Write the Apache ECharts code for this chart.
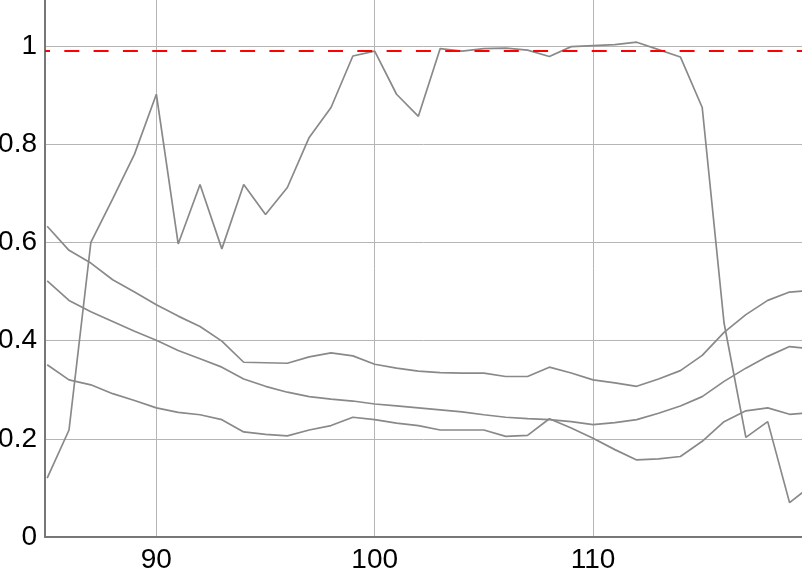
<!DOCTYPE html>
<html>
<head>
<meta charset="utf-8">
<script src="https://cdn.jsdelivr.net/npm/echarts@6/dist/echarts.min.js"></script>
<style>
  html, body { margin: 0; padding: 0; background: #fff; }
  #main { width: 802px; height: 571px; }
</style>
</head>
<body>
<div id="main"></div>
<script>
// x positions 85 .. 120 (the last one falls just past the right edge)
var xs = [85, 86, 87, 88, 89, 90, 91, 92, 93, 94, 95, 96, 97, 98, 99, 100, 101, 102,
  103, 104, 105, 106, 107, 108, 109, 110, 111, 112, 113, 114, 115, 116, 117, 118, 119, 120];

var seriesA = [0.633, 0.584, 0.558, 0.524, 0.499, 0.473, 0.450, 0.429, 0.399, 0.356, 0.355, 0.354,
  0.367, 0.375, 0.369, 0.352, 0.344, 0.338, 0.335, 0.334, 0.334, 0.327, 0.327, 0.346,
  0.334, 0.320, 0.314, 0.307, 0.322, 0.339, 0.370, 0.417, 0.453, 0.482, 0.499, 0.502];
var seriesB = [0.522, 0.482, 0.459, 0.439, 0.419, 0.401, 0.380, 0.363, 0.346, 0.322, 0.307, 0.295,
  0.286, 0.281, 0.277, 0.271, 0.267, 0.263, 0.259, 0.255, 0.249, 0.244, 0.241, 0.239,
  0.235, 0.229, 0.233, 0.239, 0.252, 0.267, 0.286, 0.317, 0.344, 0.368, 0.388, 0.383];
var seriesC = [0.351, 0.320, 0.310, 0.292, 0.278, 0.263, 0.254, 0.249, 0.239, 0.214, 0.209, 0.206,
  0.218, 0.227, 0.244, 0.239, 0.232, 0.227, 0.218, 0.218, 0.218, 0.205, 0.207, 0.241,
  0.222, 0.201, 0.178, 0.157, 0.159, 0.164, 0.195, 0.235, 0.257, 0.263, 0.250, 0.253];
var seriesD = [0.120, 0.218, 0.600, 0.689, 0.780, 0.902, 0.597, 0.718, 0.587, 0.718, 0.657, 0.712,
  0.814, 0.875, 0.980, 0.990, 0.902, 0.857, 0.995, 0.990, 0.995, 0.996, 0.992, 0.979,
  0.999, 1.001, 1.003, 1.008, 0.993, 0.978, 0.875, 0.436, 0.203, 0.235, 0.070, 0.105];

var xTicks = [90, 100, 110];
var yTicks = [0, 0.2, 0.4, 0.6, 0.8, 1];
var refLevel = 0.995;

function pairs(vals) {
  return xs.map(function (x, i) { return [x, vals[i]]; });
}

var chart = echarts.init(document.getElementById("main"), null, { renderer: "canvas" });

var labelFont = { fontSize: 28, fontFamily: "Liberation Sans, Arial, sans-serif", color: "#000" };
var gridLine = { show: true, lineStyle: { color: "#b5b5b5", width: 1 } };
var grayLine = { color: "#898989", width: 1.7 };

var option = {
  animation: false,
  // v6 would otherwise shrink the grid to keep the cut-off y labels inside
  grid: { left: 45, right: 0, top: 0, bottom: 34, outerBoundsMode: "none" },
  xAxis: {
    type: "value",
    min: 84.9,
    max: 119.57,
    axisLine: { show: true, lineStyle: { color: "#777", width: 2 } },
    axisTick: { show: false, customValues: xTicks },
    axisLabel: Object.assign({ customValues: xTicks, margin: 9 }, labelFont),
    splitLine: gridLine
  },
  yAxis: {
    type: "value",
    min: 0,
    max: 1.094,
    axisLine: { show: true, lineStyle: { color: "#777", width: 2 } },
    axisTick: { show: false, customValues: yTicks },
    axisLabel: Object.assign({ customValues: yTicks, margin: 8 }, labelFont),
    splitLine: gridLine
  },
  series: [
    { type: "line", data: pairs(seriesA), symbol: "none", lineStyle: grayLine, z: 2 },
    { type: "line", data: pairs(seriesB), symbol: "none", lineStyle: grayLine, z: 2 },
    { type: "line", data: pairs(seriesC), symbol: "none", lineStyle: grayLine, z: 2 },
    {
      type: "line", data: pairs(seriesD), symbol: "none", lineStyle: grayLine, z: 2,
      markLine: {
        silent: true,
        symbol: "none",
        label: { show: false },
        lineStyle: { color: "#ff0000", width: 2, type: [15, 14.3], dashOffset: 10 },
        data: [{ yAxis: refLevel }]
      }
    }
  ]
};

chart.setOption(option);
</script>
</body>
</html>
